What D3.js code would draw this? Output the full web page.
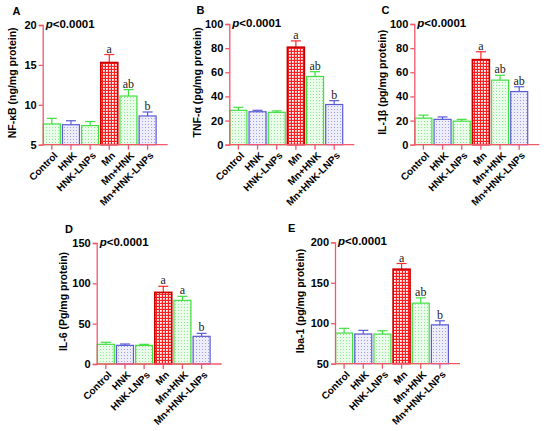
<!DOCTYPE html>
<html>
<head>
<meta charset="utf-8">
<script src="https://cdn.jsdelivr.net/npm/d3@7"></script>
<style>
  body { margin: 0; background: #fff; }
  svg { font-family: "Liberation Sans", Arial, sans-serif; }
</style>
</head>
<body>
<svg id="chart" width="550" height="431"></svg>
<script>
// groups on every x axis
var groups = ['Control', 'HNK', 'HNK-LNPs', 'Mn', 'Mn+HNK', 'Mn+HNK-LNPs']
var barStyle = ['green', 'blue', 'green', 'red', 'green', 'blue']

// means and SD
var nfkbMean = [7.6, 7.5, 7.4, 15.3, 11.1, 8.6]
var nfkbSd   = [0.7, 0.5, 0.5, 1.0, 0.8, 0.5]
var tnfMean  = [28.5, 27.3, 26.8, 80.8, 56.5, 33.3]
var tnfSd    = [2.5, 1.2, 1.2, 5.2, 4.0, 3.2]
var il1Mean  = [22.0, 21.0, 19.5, 70.5, 53.5, 44.0]
var il1Sd    = [2.5, 2.0, 1.5, 6.5, 4.0, 4.0]
var il6Mean  = [24.4, 23.1, 23.1, 88.8, 78.9, 34.3]
var il6Sd    = [2.5, 1.7, 1.3, 7.5, 5.0, 3.7]
var ibaMean  = [87.9, 86.7, 86.6, 166.8, 124.8, 98.0]
var ibaSd    = [5.8, 4.5, 4.1, 7.0, 6.5, 5.0]

// significance letters
var nfkbSig = ['', '', '', 'a', 'ab', 'b']
var tnfSig  = ['', '', '', 'a', 'ab', 'b']
var il1Sig  = ['', '', '', 'a', 'ab', 'ab']
var il6Sig  = ['', '', '', 'a', 'a', 'b']
var ibaSig  = ['', '', '', 'a', 'ab', 'b']

// y axis ticks
var nfkbTicks = [5, 10, 15, 20]
var tnfTicks  = [0, 20, 40, 60, 80, 100]
var il1Ticks  = [0, 20, 40, 60, 80, 100]
var il6Ticks  = [0, 50, 100, 150]
var ibaTicks  = [50, 100, 150, 200]

var panels = [
  {label:'A', title:'NF-\u03baB (ng/mg protein)', mean:nfkbMean, sd:nfkbSd, sig:nfkbSig, ticks:nfkbTicks},
  {label:'B', title:'TNF-\u03b1 (pg/mg protein)', mean:tnfMean, sd:tnfSd, sig:tnfSig, ticks:tnfTicks},
  {label:'C', title:'IL-1\u03b2 (pg/mg protein)', mean:il1Mean, sd:il1Sd, sig:il1Sig, ticks:il1Ticks},
  {label:'D', title:'IL-6 (Pg/mg protein)', mean:il6Mean, sd:il6Sd, sig:il6Sig, ticks:il6Ticks},
  {label:'E', title:'Iba-1 (pg/mg protein)', mean:ibaMean, sd:ibaSd, sig:ibaSig, ticks:ibaTicks}
]

// where each panel sits (axis origin x, top and bottom of y axis, title offset, letter x)
var layout = [
  {x:42.7, top:25, bottom:144.7, titleDx:27, letterX:12.5},
  {x:229.3, top:24, bottom:144.7, titleDx:28, letterX:196.5},
  {x:414.3, top:24, bottom:144.7, titleDx:28, letterX:381.5},
  {x:96.7, top:243, bottom:364, titleDx:30, letterX:65},
  {x:335, top:242.3, bottom:363.7, titleDx:31, letterX:288}
]

var axisColor = '#f5566c'
var colors = {
  green: {stroke:'#3fe03f', bg:'#eafcea', dot:'#8fe88f'},
  blue:  {stroke:'#5a5ad6', bg:'#eeeefb', dot:'#a0a0e6'},
  red:   {stroke:'#c80000', bg:'#ff1f1f', dot:'#ffffff'}
}

var svg = d3.select('#chart')
var defs = svg.append('defs')

// dotted fills
;['green', 'blue'].forEach(function(k){
  var p = defs.append('pattern').attr('id', 'pat-' + k)
    .attr('patternUnits', 'userSpaceOnUse').attr('width', 3).attr('height', 3)
  p.append('rect').attr('width', 3).attr('height', 3).attr('fill', colors[k].bg)
  p.append('rect').attr('x', 1).attr('y', 1).attr('width', 1).attr('height', 1).attr('fill', colors[k].dot)
})
// checkered red fill
var pr = defs.append('pattern').attr('id', 'pat-red')
  .attr('patternUnits', 'userSpaceOnUse').attr('width', 3).attr('height', 3)
pr.append('rect').attr('width', 3).attr('height', 3).attr('fill', colors.red.bg)
pr.append('rect').attr('x', 1).attr('y', 1).attr('width', 1.8).attr('height', 1.8).attr('fill', '#ffffff')

var step = 19, axisLen = 125

panels.forEach(function(p, pi){
  var L = layout[pi]
  var g = svg.append('g')

  var x = d3.scaleBand().domain(groups).range([L.x, L.x + step * groups.length]).paddingInner(0.05).paddingOuter(0)
  var y = d3.scaleLinear().domain(d3.extent(p.ticks)).range([L.bottom, L.top])

  var rows = groups.map(function(gname, i){
    return {g:gname, m:p.mean[i], sd:p.sd[i], sig:p.sig[i], style:barStyle[i]}
  })

  // error bars (upper only), drawn first so bar covers the lower part
  var eb = g.selectAll('.err').data(rows).enter().append('g').attr('class', 'err')
    .attr('stroke', function(d){return d.style == 'red' ? '#ff2a2a' : colors[d.style].stroke})
    .attr('stroke-width', 1.2)
  eb.append('line')
    .attr('x1', function(d){return x(d.g) + x.bandwidth() / 2})
    .attr('x2', function(d){return x(d.g) + x.bandwidth() / 2})
    .attr('y1', function(d){return y(d.m)})
    .attr('y2', function(d){return y(d.m + d.sd)})
  eb.append('line')
    .attr('x1', function(d){return x(d.g) + x.bandwidth() / 2 - 5})
    .attr('x2', function(d){return x(d.g) + x.bandwidth() / 2 + 5})
    .attr('y1', function(d){return y(d.m + d.sd)})
    .attr('y2', function(d){return y(d.m + d.sd)})

  g.selectAll('.bar').data(rows).enter().append('rect').attr('class', 'bar')
    .attr('x', function(d){return x(d.g) + 0.6})
    .attr('width', x.bandwidth() - 1.2)
    .attr('y', function(d){return y(d.m)})
    .attr('height', function(d){return L.bottom - y(d.m)})
    .attr('fill', function(d){return 'url(#pat-' + d.style + ')'})
    .attr('stroke', function(d){return colors[d.style].stroke})
    .attr('stroke-width', function(d){return d.style == 'red' ? 1.6 : 1.2})

  // significance letters
  g.selectAll('.sig').data(rows).enter().append('text')
    .attr('x', function(d){return x(d.g) + x.bandwidth() / 2})
    .attr('y', function(d){return y(d.m + d.sd) - 2})
    .attr('text-anchor', 'middle')
    .style('font-family', '"Liberation Serif", "Times New Roman", serif')
    .style('font-size', '12px')
    .attr('fill', '#222')
    .text(function(d){return d.sig})

  // y axis
  var yAxis = g.append('g').attr('transform', 'translate(' + L.x + ',0)')
    .call(d3.axisLeft(y).tickValues(p.ticks).tickSize(4).tickPadding(2))
  yAxis.select('.domain').attr('stroke', axisColor).attr('stroke-width', 1.3)
  yAxis.selectAll('.tick line').attr('stroke', axisColor).attr('stroke-width', 1.3)
  yAxis.selectAll('.tick text').attr('fill', '#000')
    .style('font-size', '11px').style('font-weight', 'bold')

  // x axis: ticks from the axis, labels drawn as rotated text
  var xAxis = g.append('g').attr('transform', 'translate(0,' + L.bottom + ')')
    .call(d3.axisBottom(x).tickSize(5).tickSizeOuter(0).tickFormat(''))
  xAxis.select('.domain').remove()
  xAxis.append('line').attr('x1', L.x).attr('x2', L.x + axisLen)
    .attr('stroke', axisColor).attr('stroke-width', 1.3)
  xAxis.selectAll('.tick line').attr('stroke', axisColor).attr('stroke-width', 1.3)

  g.selectAll('.xlab').data(groups).enter().append('text').attr('class', 'xlab')
    .attr('transform', function(d){
      return 'translate(' + (x(d) + x.bandwidth() / 2 + 4) + ',' + (L.bottom + 9) + ') rotate(-45)'
    })
    .attr('text-anchor', 'end')
    .attr('dy', '0.35em')
    .style('font-size', '10px').style('font-weight', 'bold')
    .text(function(d){return d})

  // y title
  g.append('text')
    .attr('transform', 'translate(' + (L.x - L.titleDx) + ',' + ((L.top + L.bottom) / 2 - 2) + ') rotate(-90)')
    .attr('text-anchor', 'middle')
    .style('font-size', '10.5px').style('font-weight', 'bold')
    .text(p.title)

  // panel letter
  g.append('text')
    .attr('x', L.letterX).attr('y', L.top - 10)
    .style('font-size', '11px').style('font-weight', 'bold')
    .text(p.label)

  // p value
  var pv = g.append('text').attr('x', L.x + 3).attr('y', L.top + 3)
    .style('font-size', '11.5px').style('font-weight', 'bold')
  pv.append('tspan').style('font-style', 'italic').text('p')
  pv.append('tspan').text('<0.0001')
})
</script>
</body>
</html>
